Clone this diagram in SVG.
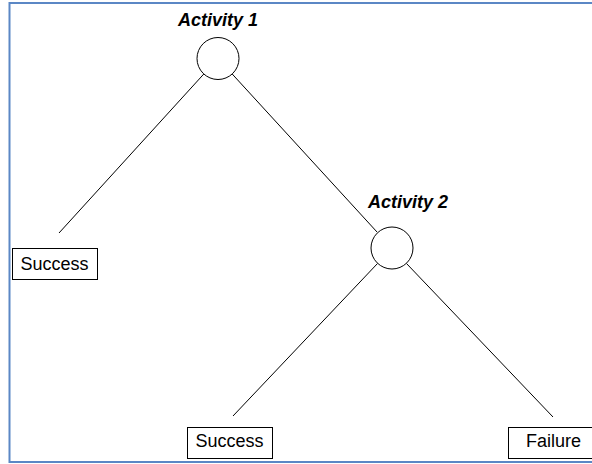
<svg xmlns="http://www.w3.org/2000/svg" width="592" height="464" viewBox="0 0 592 464">
  <style>
    .frame { fill: #ffffff; stroke: #5b87c5; stroke-width: 2; }
    .node circle { fill: #ffffff; stroke: #000000; stroke-width: 1; }
    .leaf rect { fill: #ffffff; stroke: #000000; stroke-width: 1; }
    .edge { stroke: #000000; stroke-width: 1; fill: none; }
    .title { font-family: "Liberation Sans", Arial, sans-serif; font-size: 18px; font-weight: bold; font-style: italic; fill: #000000; }
    .label { font-family: "Liberation Sans", Arial, sans-serif; font-size: 18px; fill: #000000; text-anchor: middle; }
  </style>

  <!-- outer frame (right side runs past the canvas edge) -->
  <rect class="frame" x="9.5" y="3" width="596" height="459"/>

  <!-- connectors -->
  <g id="connectors">
    <line class="edge" x1="203.8" y1="74" x2="59" y2="233"/>
    <line class="edge" x1="232.2" y1="74" x2="377" y2="232"/>
    <line class="edge" x1="377.5" y1="263.5" x2="233" y2="416"/>
    <line class="edge" x1="406.5" y1="263.5" x2="553" y2="417"/>
  </g>

  <!-- decision nodes -->
  <g id="activity1" class="node">
    <text class="title" x="178" y="26">Activity 1</text>
    <circle cx="218" cy="58.5" r="21"/>
  </g>
  <g id="activity2" class="node">
    <text class="title" x="368" y="208">Activity 2</text>
    <circle cx="392" cy="248" r="21"/>
  </g>

  <!-- outcomes -->
  <g id="success1" class="leaf">
    <rect x="12.5" y="248.5" width="85" height="31"/>
    <text class="label" x="54.5" y="269.5">Success</text>
  </g>
  <g id="success2" class="leaf">
    <rect x="187.5" y="427.5" width="85" height="31"/>
    <text class="label" x="229.5" y="447">Success</text>
  </g>
  <g id="failure" class="leaf">
    <rect x="508.5" y="427.5" width="92" height="31"/>
    <text class="label" x="553.5" y="447">Failure</text>
  </g>
</svg>
